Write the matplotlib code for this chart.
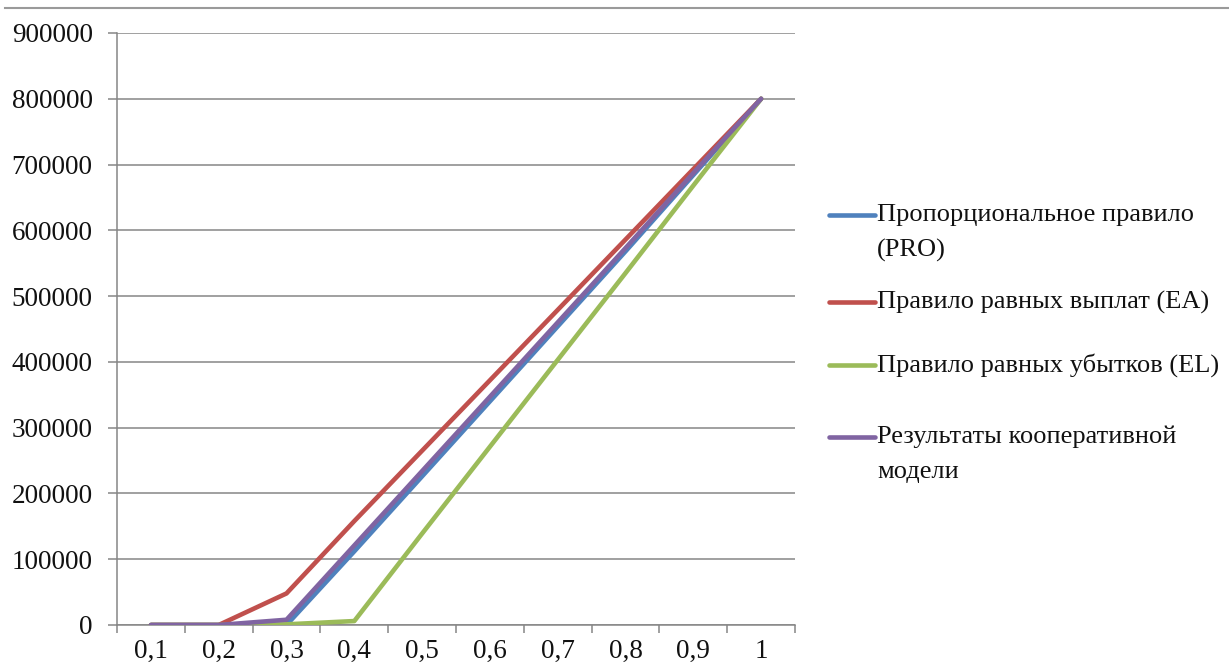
import matplotlib
matplotlib.use("Agg")
import matplotlib.pyplot as plt
import numpy as np
from matplotlib.lines import Line2D

plt.rcParams["font.family"] = ["Liberation Serif", "DejaVu Serif"]

# ---------------------------------------------------------------- data
categories = ["0,1", "0,2", "0,3", "0,4", "0,5", "0,6", "0,7", "0,8", "0,9", "1"]
pro = [0, 0, 0, 112000, 226000, 340000, 454000, 568000, 684000, 800000]
ea = [0, 0, 48000, 158000, 265000, 372000, 479000, 586000, 693000, 800000]
el = [0, 0, 1000, 6000, 139000, 271000, 403000, 535000, 668000, 800000]
coop = [0, 0, 8000, 121000, 234000, 347000, 460000, 573000, 687000, 800000]

series_names = [
    "Пропорциональное правило\n(PRO)",
    "Правило равных выплат (EA)",
    "Правило равных убытков (EL)",
    "Результаты кооперативной\nмодели",
]
series_values = [pro, ea, el, coop]
colors = ["#4F81BD", "#C0504D", "#9BBB59", "#8064A2"]

W, H = 1229, 667
fig = plt.figure(figsize=(W / 100, H / 100), dpi=100)
ax = fig.add_axes([117 / W, 1 - 625 / H, (795 - 117) / W, (625 - 33) / H])

x = np.arange(len(categories))
for vals, col in zip(series_values, colors):
    ax.plot(x, vals, color=col, linewidth=3.3, solid_capstyle="round",
            solid_joinstyle="round", zorder=3)

grid_col = "#868686"
text_col = "#111111"
fs = 19.5
fs_leg = 19

ax.set_ylim(0, 900000)
ax.set_yticks(np.arange(0, 900001, 100000))
ax.set_yticklabels([str(v) for v in range(0, 900001, 100000)])
ax.yaxis.grid(True, color=grid_col, linewidth=1.1)
ax.set_axisbelow(True)

ax.set_xlim(-0.5, len(categories) - 0.5)
ax.set_xticks(np.arange(-0.5, len(categories)), minor=False)
ax.set_xticklabels([])
ax.set_xticks(x, minor=True)
ax.set_xticklabels(categories, minor=True)

ax.tick_params(axis="x", which="major", length=6, width=1.1, color=grid_col, direction="out")
ax.tick_params(axis="x", which="minor", length=0, pad=10, labelsize=fs, labelcolor=text_col)
ax.tick_params(axis="y", length=6.5, width=1.1, color=grid_col, pad=11,
               labelsize=fs, labelcolor=text_col)

for side in ["top", "right"]:
    ax.spines[side].set_visible(False)
for side in ["left", "bottom"]:
    ax.spines[side].set_color(grid_col)
    ax.spines[side].set_linewidth(1.1)

# thin border line at the top of the picture
fig.add_artist(Line2D([5 / W, 1.0], [1 - 8 / H, 1 - 8 / H], color="#9a9a9a", linewidth=1.5))

# ---------------------------------------------------------------- legend
legend_y = [215, 302, 365, 437]
for name, col, ly in zip(series_names, colors, legend_y):
    yy = 1 - ly / H
    fig.add_artist(Line2D([829 / W, 875 / W], [yy, yy], color=col, linewidth=3.3,
                          solid_capstyle="round"))
    for k, part in enumerate(name.split("\n")):
        fig.text(877 / W, 1 - (ly + k * 35) / H, part, fontsize=fs_leg, color=text_col,
                 va="center", ha="left")

fig.savefig("out.png", dpi=100)
